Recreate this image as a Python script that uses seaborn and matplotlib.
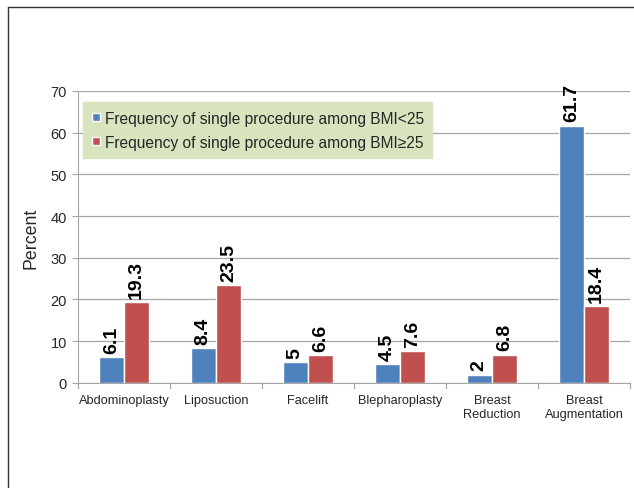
import matplotlib
matplotlib.use('Agg')
import matplotlib.pyplot as plt
import seaborn as sns
import pandas as pd
from matplotlib.lines import Line2D

procedures = ["Abdominoplasty", "Liposuction", "Facelift", "Blepharoplasty",
              "Breast\nReduction", "Breast\nAugmentation"]
bmi_under_25 = [6.1, 8.4, 5, 4.5, 2, 61.7]
bmi_over_25 = [19.3, 23.5, 6.6, 7.6, 6.8, 18.4]
series_names = ["Frequency of single procedure among BMI<25",
                "Frequency of single procedure among BMI\u226525"]
colors = ["#4F81BD", "#C0504D"]

df = pd.DataFrame({
    "procedure": procedures * 2,
    "value": bmi_under_25 + bmi_over_25,
    "group": [series_names[0]] * len(procedures) + [series_names[1]] * len(procedures),
})

sns.set_style("white")
plt.rcParams['font.family'] = ['Liberation Sans', 'DejaVu Sans']

fig = plt.figure(figsize=(6.34, 4.89), dpi=100)
ax = fig.add_axes([78 / 634, 0.215, 552 / 634, 0.597])

sns.barplot(data=df, x="procedure", y="value", hue="group", palette=colors,
            width=0.55, saturation=1, ax=ax, legend=False)

for cont, vals in zip(ax.containers, [bmi_under_25, bmi_over_25]):
    labels = [f"{v:g}" for v in vals]
    ax.bar_label(cont, labels=labels, rotation=90, padding=3,
                 fontsize=14, fontweight="bold", color="black")

ax.set_ylim(0, 70)
ax.set_xlim(-0.5, len(procedures) - 0.5)
ax.set_yticks(range(0, 71, 10))
ax.yaxis.grid(True, color="#A6A6A6", linewidth=0.9)
ax.set_axisbelow(True)
for s in ["top", "right"]:
    ax.spines[s].set_visible(False)
ax.spines["left"].set_color("#A6A6A6")
ax.spines["bottom"].set_color("#A6A6A6")
ax.tick_params(axis="y", labelsize=10.5, length=4, color="#A6A6A6", left=True, pad=4)
ax.tick_params(axis="x", labelsize=9.2, length=0, pad=8)
ax.set_xticks(range(len(procedures)))
ax.set_xticklabels(procedures)
# tick marks between categories
for b in range(len(procedures) + 1):
    ax.plot([b - 0.5, b - 0.5], [0, -1.2], color="#A6A6A6", lw=0.9, clip_on=False)
ax.set_xlabel("")
ax.set_ylabel("Percent", fontsize=12.8, labelpad=8)

handles = [Line2D([0], [0], marker="s", color="w", markerfacecolor=c, markersize=6,
                  linestyle="") for c in colors]
leg = ax.legend(handles, series_names, loc="upper left", bbox_to_anchor=(0.009, 0.962),
                borderaxespad=0, fontsize=11.2, frameon=True, facecolor="#D7E4BD",
                edgecolor="#D7E4BD", fancybox=False, handlelength=0.6, handletextpad=0.25,
                borderpad=0.55, labelspacing=0.6, framealpha=1)

# outer frame (top and left)
fig.add_artist(Line2D([8 / 634, 1], [1 - 8 / 489, 1 - 8 / 489], color="#333333", lw=1))
fig.add_artist(Line2D([8 / 634, 8 / 634], [0, 1 - 8 / 489], color="#333333", lw=1))

fig.savefig("out.png", dpi=100)
